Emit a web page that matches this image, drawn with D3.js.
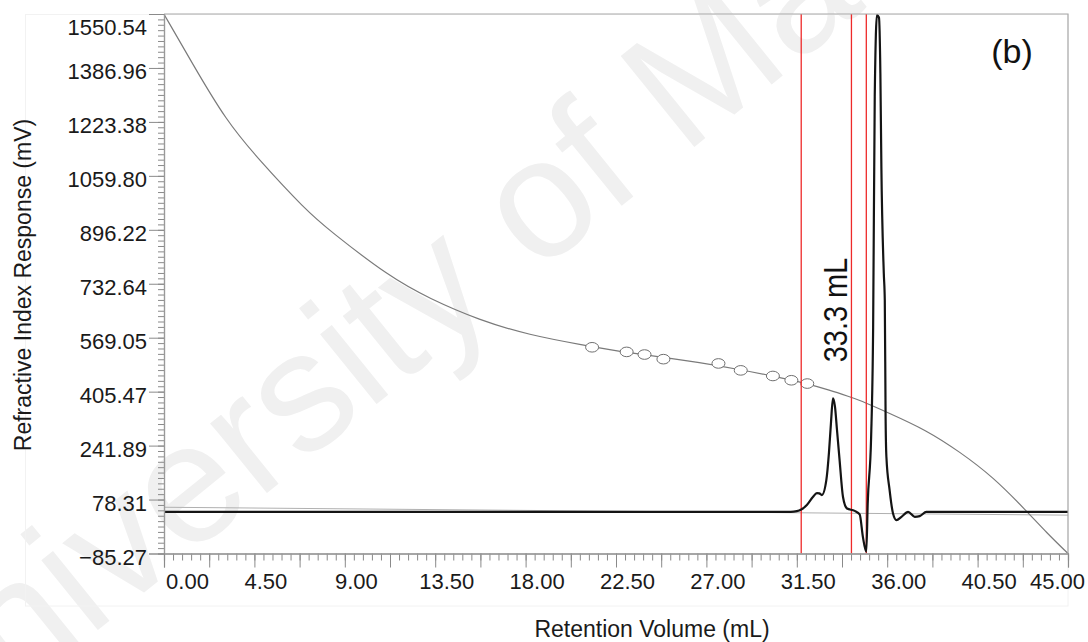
<!DOCTYPE html>
<html>
<head>
<meta charset="utf-8">
<script src="https://cdn.jsdelivr.net/npm/d3@7"></script>
<style>
    body { margin: 0; background: #fff; }
    svg { display: block; font-family: "Liberation Sans", Arial, sans-serif; }
</style>
</head>
<body>
<svg id="chart" width="1088" height="642"></svg>
<script>
// --- Data ---
const yTickValues = [-85.27, 78.31, 241.89, 405.47, 569.05, 732.64, 896.22, 1059.80, 1223.38, 1386.96, 1550.54];
const xTickValues = [0, 4.5, 9, 13.5, 18, 22.5, 27, 31.5, 36, 40.5, 45];

// RI chromatogram (mL, mV)
const rtVolume   = [0, 31.2, 31.5, 31.72, 32.0, 32.3, 32.5, 32.62, 32.75, 32.97, 33.1, 33.2, 33.3, 33.4, 33.5, 33.63, 33.8, 34.0, 34.38, 34.63, 34.79, 34.96, 35.03, 35.2, 35.3, 35.38, 35.49, 35.59, 35.66, 35.71, 35.83, 35.88, 35.92, 35.96, 36.12, 36.29, 36.46, 36.71, 37.04, 37.37, 37.62, 37.95, 45];
const riResponse = [41, 41, 43, 48, 62, 86, 98, 97, 92, 137, 220, 310, 385, 360, 290, 198, 86, 51, 44, 33, -35, -80, 67, 268, 600, 1300, 1547, 1540, 1371, 1087, 765, 683, 329, 208, 107, 36, 16, 26, 41, 26, 28, 41, 41];

// calibration fit curve
const calibVolume   = [0, 1.41, 3.07, 4.73, 7.06, 8.22, 11.21, 13.2, 15.7, 18.19, 20.84, 23.0, 26.16, 28.7, 30.3, 32.0, 33.13, 34.13, 34.63, 35.96, 37.95, 39.61, 41.27, 42.93, 43.93, 45];
const calibResponse = [1550, 1401, 1229, 1108, 956, 895, 754, 688, 622, 577, 547, 524, 499, 472, 453, 430, 410, 390, 380, 344, 289, 223, 147, 44, -22, -85.27];

// calibration standards (open markers)
const standardsVolume   = [21.31, 23.03, 23.92, 24.86, 27.60, 28.71, 30.31, 31.23, 32.02];
const standardsResponse = [540, 526, 518, 504, 491, 470, 453, 440, 430];

// drawn baseline
const baselineVolume   = [0, 45];
const baselineResponse = [55, 31];

// integration limits
const markerVolumes = [31.72, 34.22, 34.96];
const peakLabel = "33.3 mL";
const panelLabel = "(b)";

// --- Setup ---
const svg = d3.select("#chart");
const plot = { left: 164, right: 1068, top: 14, bottom: 553.5 };

const x = d3.scaleLinear().domain([0, 45]).range([plot.left, plot.right]);
const y = d3.scaleLinear().domain([-85.27, 1550.54]).range([plot.bottom, plot.top]);

// watermark
svg.append("text")
    .attr("transform", "translate(-80,774) rotate(-39)")
    .attr("font-size", 170)
    .attr("fill", "#f0f0f0")
    .text("University of Malaya");

// faint outer frame
svg.append("rect")
    .attr("x", 25.5).attr("y", 14.5)
    .attr("width", plot.right - 25.5).attr("height", 606 - 14.5)
    .attr("fill", "none").attr("stroke", "#f2f2f2");

// --- Series ---
const toPts = (xs, ys) => xs.map((v, i) => [v, ys[i]]);

svg.append("path")
    .datum(toPts(baselineVolume, baselineResponse))
    .attr("fill", "none").attr("stroke", "#b0b0b0").attr("stroke-width", 1)
    .attr("d", d3.line().x(d => x(d[0])).y(d => y(d[1])));

svg.append("path")
    .datum(toPts(calibVolume, calibResponse))
    .attr("fill", "none").attr("stroke", "#7a7a7a").attr("stroke-width", 1.2)
    .attr("d", d3.line().curve(d3.curveBasis).x(d => x(d[0])).y(d => y(d[1])));

svg.append("g").selectAll("ellipse")
    .data(toPts(standardsVolume, standardsResponse))
    .join("ellipse")
    .attr("cx", d => x(d[0])).attr("cy", d => y(d[1]))
    .attr("rx", 6.5).attr("ry", 4.8)
    .attr("fill", "#fff").attr("stroke", "#707070").attr("stroke-width", 1);

svg.append("g").selectAll("line")
    .data(markerVolumes)
    .join("line")
    .attr("x1", d => x(d)).attr("x2", d => x(d))
    .attr("y1", plot.top).attr("y2", plot.bottom)
    .attr("stroke", "#ee2a2a").attr("stroke-width", 1.3);

svg.append("path")
    .datum(toPts(rtVolume, riResponse))
    .attr("fill", "none").attr("stroke", "#141414").attr("stroke-width", 2.2)
    .attr("stroke-linejoin", "round")
    .attr("d", d3.line().curve(d3.curveMonotoneX).x(d => x(d[0])).y(d => y(d[1])));

// --- Frame ---
svg.append("path")
    .attr("d", `M${plot.left},${plot.top}H${plot.right}V${plot.bottom}`)
    .attr("fill", "none").attr("stroke", "#a8a8a8").attr("stroke-width", 1.2);

// --- Y axis ---
const yStep = (yTickValues[yTickValues.length - 1] - yTickValues[0]) / 100;
const yMinor = d3.range(0, 101).map(i => yTickValues[0] + i * yStep);

const yMinorAxis = svg.append("g")
    .attr("transform", `translate(${plot.left},0)`)
    .call(d3.axisLeft(y).tickValues(yMinor).tickSize(6).tickFormat(""));
const yAxis = svg.append("g")
    .attr("transform", `translate(${plot.left},0)`)
    .call(d3.axisLeft(y).tickValues(yTickValues).tickSize(15).tickPadding(2).tickFormat(d3.format(".2f")));

[yMinorAxis, yAxis].forEach(g => {
    g.select(".domain").attr("stroke", "#999").attr("stroke-width", 1.2);
    g.selectAll(".tick line").attr("stroke", "#8a8a8a");
});
yAxis.selectAll(".tick text")
    .attr("font-size", 22).attr("fill", "#1a1a1a")
    .attr("font-family", "'Liberation Sans', Arial, sans-serif")
    .attr("dy", (d, i) => i === yTickValues.length - 1 ? "0.95em" : "0.5em");

// --- X axis ---
const xMajor = d3.range(0, 21).map(i => i * 2.25);
const xMinor = d3.range(0, 101).map(i => i * 0.45);

const xMinorAxis = svg.append("g")
    .attr("transform", `translate(0,${plot.bottom})`)
    .call(d3.axisBottom(x).tickValues(xMinor).tickSize(7).tickFormat(""));
const xMidAxis = svg.append("g")
    .attr("transform", `translate(0,${plot.bottom})`)
    .call(d3.axisBottom(x).tickValues(xMajor).tickSize(14).tickFormat(""));
const xAxis = svg.append("g")
    .attr("transform", `translate(0,${plot.bottom})`)
    .call(d3.axisBottom(x).tickValues(xTickValues).tickSize(0).tickPadding(20).tickFormat(d3.format(".2f")));

[xMinorAxis, xMidAxis, xAxis].forEach(g => {
    g.select(".domain").attr("stroke", "#999").attr("stroke-width", 1.2);
    g.selectAll(".tick line").attr("stroke", "#8a8a8a");
});
xAxis.selectAll(".tick text")
    .attr("font-size", 22).attr("fill", "#1a1a1a")
    .attr("font-family", "'Liberation Sans', Arial, sans-serif")
    .attr("dx", (d, i) => i === 0 ? 23 : (i === xTickValues.length - 1 ? -11 : 11));

// --- Titles & annotations ---
svg.append("text")
    .attr("x", 652).attr("y", 637)
    .attr("text-anchor", "middle")
    .attr("font-size", 23).attr("fill", "#1a1a1a")
    .text("Retention Volume (mL)");

svg.append("text")
    .attr("transform", "translate(31,285) rotate(-90)")
    .attr("text-anchor", "middle")
    .attr("font-size", 23).attr("fill", "#1a1a1a")
    .text("Refractive Index Response (mV)");

svg.append("text")
    .attr("x", 1012).attr("y", 63)
    .attr("text-anchor", "middle")
    .attr("font-size", 34).attr("fill", "#111")
    .text(panelLabel);

svg.append("text")
    .attr("transform", "translate(847,310) rotate(-90) scale(0.85,1)")
    .attr("text-anchor", "middle")
    .attr("font-size", 34).attr("fill", "#111")
    .text(peakLabel);
</script>
</body>
</html>
